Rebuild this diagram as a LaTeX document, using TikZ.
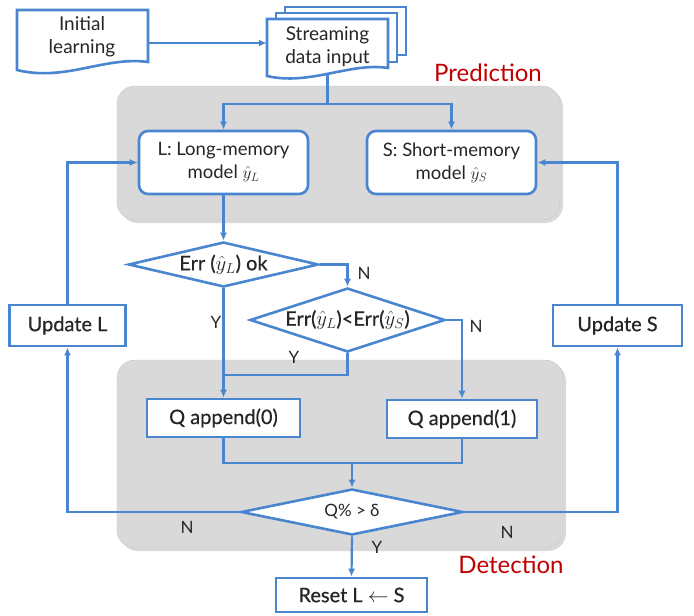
\documentclass[tikz,border=0pt]{standalone}
\usepackage{fontspec}
\setmainfont{Lato}
\newfontfamily\medfont{Lato}[FakeBold=0.6]
\usetikzlibrary{arrows.meta, shapes.geometric, positioning}
\definecolor{lblue}{HTML}{4A86D0}
\definecolor{pgray}{HTML}{D9D9D9}
\definecolor{dred}{HTML}{C00000}
\definecolor{ink}{HTML}{262626}

\begin{document}
\begin{tikzpicture}[x=1pt, y=-1pt,
    every node/.style={text=ink, font=\fontsize{19}{22}\selectfont},
    box/.style={draw=lblue, line width=2.6pt, fill=white, minimum height=38pt, inner sep=0pt, font=\medfont\fontsize{20}{24}\selectfont},
    mbox/.style={draw=lblue, line width=2.6pt, fill=white, inner sep=0pt, rounded corners=9pt, minimum width=169pt, minimum height=63pt, align=center, font=\fontsize{18.5}{23}\selectfont},
    dec/.style={diamond, draw=lblue, line width=2.6pt, fill=white, inner sep=-4pt, font=\medfont\fontsize{20}{24}\selectfont},
    doc/.style={draw=lblue, line width=2.6pt, fill=white},
    panel/.style={fill=pgray, draw=black!22, rounded corners=18pt},
    line/.style={draw=lblue, line width=2.2pt},
    arr/.style={line, -{Latex[length=8pt, width=7pt]}},
    yn/.style={font=\fontsize{17}{20}\selectfont},
    tag/.style={text=dred, font=\fontsize{24}{28}\selectfont}]
    \useasboundingbox (0,0) rectangle (694,616);

    % grey panels
    \fill[black!15, rounded corners=18pt] (120,89) rectangle (563,223);
    \draw[panel] (117,86) rectangle (560,220);
    \fill[black!15, rounded corners=18pt] (120,363) rectangle (566,551);
    \draw[panel] (117,360) rectangle (563,548);

    % documents
    \draw[doc] (285,7) rectangle (406,55);
    \draw[doc] (276,13) rectangle (397,62);
    \draw[doc] (267,19) -- (388,19) -- (388,68) .. controls (350,62) and (310,86) .. (267,76) -- cycle;
    \draw[doc] (17,10) -- (148,10) -- (148,62) .. controls (105,56) and (65,82) .. (17,70) -- cycle;

    \node[minimum width=131pt, minimum height=54pt, align=center, font=\fontsize{19}{23}\selectfont] (init) at (82,37) {Initial\\learning};
    \node[minimum width=121pt, minimum height=54pt, align=center, font=\fontsize{19}{23}\selectfont] (stream) at (327.5,47) {Streaming\\data input};

    \node[mbox] (lmod) at (223.5,162.5) {L: Long-memory\\model $\hat{y}_L$};
    \node[mbox] (smod) at (451.5,162.5) {S: Short-memory\\model $\hat{y}_S$};

    \node[dec, minimum width=190pt, minimum height=45pt, aspect=4.2] (d1) at (223.5,264.5) {Err ($\hat{y}_L$) ok};
    \node[dec, minimum width=195pt, minimum height=64pt, aspect=2.8] (d2) at (347.5,320) {Err($\hat{y}_L$)<Err($\hat{y}_S$)};

    \node[box, minimum width=153pt] (q0) at (223.5,418) {Q append(0)};
    \node[box, minimum width=150pt] (q1) at (462,419) {Q append(1)};
    \node[dec, minimum width=222pt, minimum height=46pt, aspect=4.8, font=\fontsize{17}{20}\selectfont] (d3) at (352,512) {Q\% > δ};
    \node[box, minimum width=151pt, minimum height=34pt] (reset) at (351.5,595) {Reset L $\leftarrow$ S};

    \node[box, minimum width=116pt, minimum height=41pt] (updl) at (67.5,325.5) {Update L};
    \node[box, minimum width=129pt, minimum height=41pt] (upds) at (617.5,325.5) {Update S};

    \coordinate (split) at (327.5,104);
    \coordinate (join) at (223.5,375);
    \coordinate (merge) at (352,463);

    % connectors
    \draw[arr] ([yshift=-6pt]init.east) -- ([yshift=-6pt]init.east -| stream.west);
    \draw[line] (stream.south) -- (split);
    \draw[arr] (split) -| (lmod.north);
    \draw[arr] (split) -| (smod.north);
    \draw[arr] (lmod.south) -- (d1.north);
    \draw[arr] (d1.east) -| (d2.north);
    \draw[arr] (d1.south) -- (q0.north);
    \draw[arr] (d2.east) -| (q1.north);
    \draw[line] (d2.south) |- (join);
    \draw[line] (q0.south) |- (merge) -| (q1.south);
    \draw[arr] (merge) -- (d3.north);
    \draw[arr] (d3.south) -- (reset.north);
    \draw[arr] (d3.west) -| (updl.south);
    \draw[arr] (d3.east) -| (upds.south);
    \draw[arr] (updl.north) |- (lmod.west);
    \draw[arr] (upds.north) |- (smod.east);

    % labels
    \node[yn] (n1) at (364,273) {N};
    \node[yn] (n2) at (476,326) {N};
    \node[yn] (y1) at (216,322) {Y};
    \node[yn] (y2) at (294,357) {Y};
    \node[yn] (n3) at (187,527) {N};
    \node[yn] (n4) at (507,532) {N};
    \node[yn] (y3) at (377,547) {Y};
    \node[tag] (pred) at (488,73) {Prediction};
    \node[tag] (detc) at (511,565) {Detection};
\end{tikzpicture}
\end{document}
